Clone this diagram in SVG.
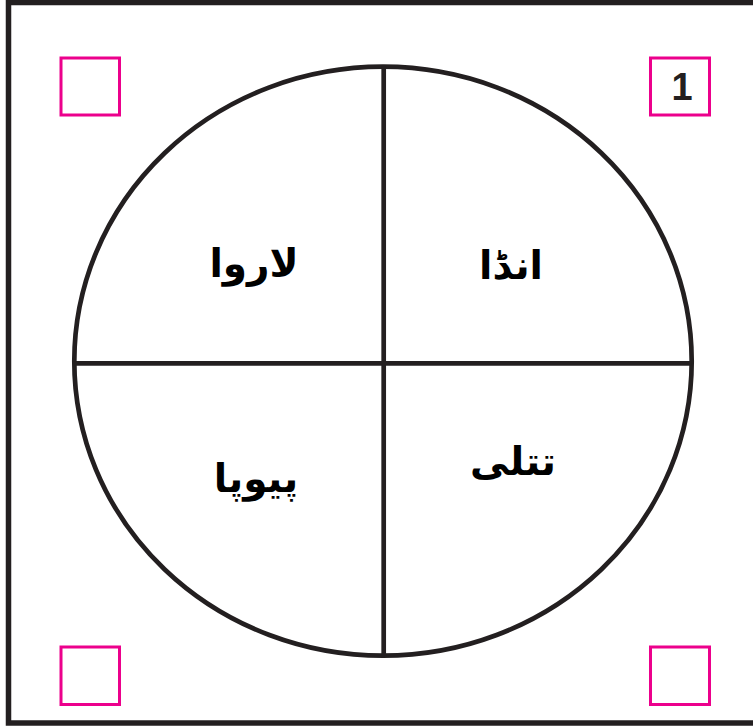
<svg xmlns="http://www.w3.org/2000/svg" width="753" height="727" viewBox="0 0 753 727">
<style>
.box{fill:none;stroke:#ec008c;stroke-width:3}
.ln{fill:none;stroke:#231f20;stroke-width:4.7}
.ur{font-family:"DejaVu Sans","Noto Sans",sans-serif;font-weight:bold;font-size:39px;fill:#000;text-anchor:middle}
.num{font-family:"Liberation Sans",Arial,sans-serif;font-weight:bold;font-size:38px;fill:#231f20;text-anchor:middle}
</style>
<rect width="753" height="727" fill="#fff"/>
<rect x="8.5" y="2.5" width="760" height="720.5" fill="none" stroke="#231f20" stroke-width="5.5"/>
<g id="box-tl"><rect class="box" x="61" y="58" width="58.5" height="57"/></g>
<g id="box-tr"><rect class="box" x="650.5" y="58" width="59" height="57"/><text class="num" x="682" y="100">1</text></g>
<g id="box-bl"><rect class="box" x="61" y="647" width="58.5" height="57.5"/></g>
<g id="box-br"><rect class="box" x="650.5" y="647" width="59" height="57.5"/></g>
<g id="connectors">
<ellipse class="ln" cx="383" cy="361.2" rx="308.7" ry="294.5"/>
<line class="ln" x1="383.7" y1="66.7" x2="383.7" y2="655.7"/>
<line class="ln" x1="74.3" y1="363.3" x2="691.7" y2="363.3"/>
</g>
<g id="larva"><text class="ur" x="254" y="277" direction="rtl">لاروا</text></g>
<g id="egg"><text class="ur" x="511" y="279" direction="rtl">انڈا</text></g>
<g id="pupa"><text class="ur" x="256" y="492" direction="rtl">پیوپا</text></g>
<g id="butterfly"><text class="ur" x="513" y="475" direction="rtl">تتلی</text></g>
</svg>
